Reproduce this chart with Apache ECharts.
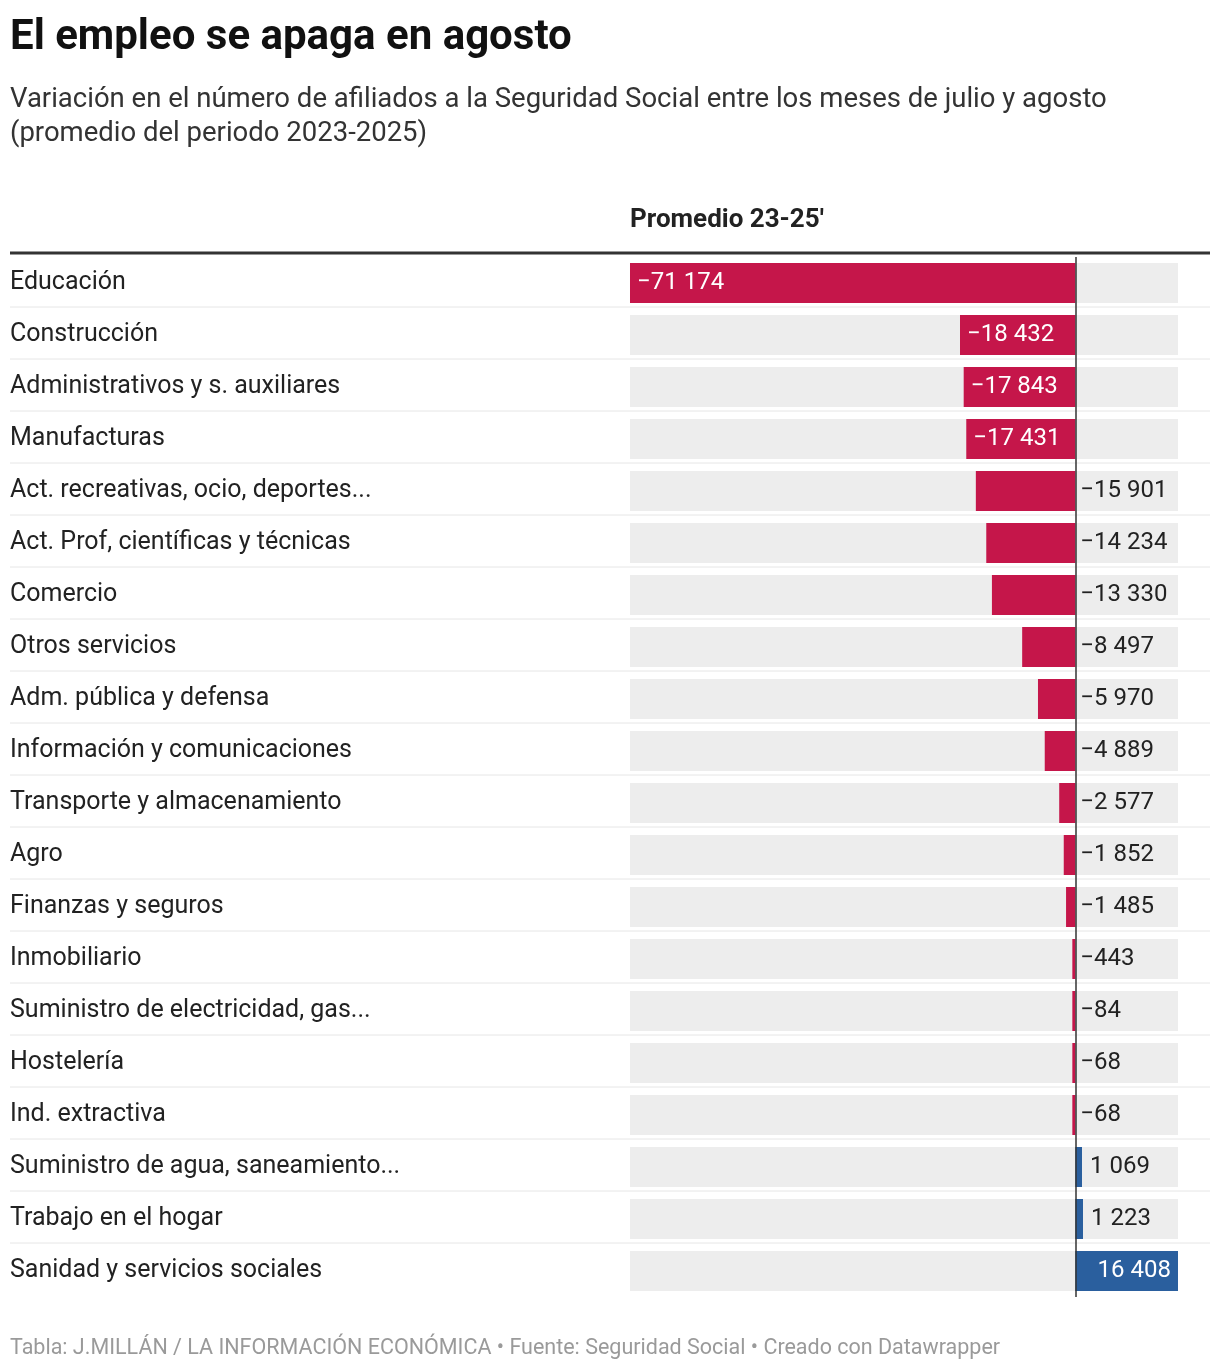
<!DOCTYPE html>
<html>
<head>
<meta charset="utf-8">
<script src="https://cdn.jsdelivr.net/npm/echarts@6/dist/echarts.min.js"></script>
<style>html,body{margin:0;padding:0;background:#fff}#chart{width:1220px;height:1370px}</style>
</head>
<body>
<div id="chart"></div>
<script>
// datos
var sectores = ['Educación','Construcción','Administrativos y s. auxiliares','Manufacturas',
  'Act. recreativas, ocio, deportes...','Act. Prof, científicas y técnicas','Comercio','Otros servicios',
  'Adm. pública y defensa','Información y comunicaciones','Transporte y almacenamiento','Agro',
  'Finanzas y seguros','Inmobiliario','Suministro de electricidad, gas...','Hostelería','Ind. extractiva',
  'Suministro de agua, saneamiento...','Trabajo en el hogar','Sanidad y servicios sociales'];
var promedio = [-71174,-18432,-17843,-17431,-15901,-14234,-13330,-8497,-5970,-4889,-2577,-1852,-1485,-443,-84,-68,-68,1069,1223,16408];
var dentro = ['Educación','Construcción','Administrativos y s. auxiliares','Manufacturas','Sanidad y servicios sociales'];

var top0 = 255, paso = 52;
var myChart = echarts.init(document.getElementById('chart'));

function fmt(v){
  var s = Math.abs(v).toString().replace(/\B(?=(\d{3})+(?!\d))/g, ' ');
  return (v < 0 ? '\u2212' : '') + s;
}

var datos = promedio.map(function(v, i){
  var d = {value: v, itemStyle: {color: v < 0 ? '#c5164a' : '#2a5f9e'}};
  if (dentro.indexOf(sectores[i]) >= 0) {
    d.label = {position: v < 0 ? 'insideLeft' : 'insideRight', color: '#fff', distance: 7};
  } else {
    d.label = {position: 'right', color: '#222', distance: v < 0 ? 5 : 8};
  }
  return d;
});

var lineas = [{type:'line', shape:{x1:10,y1:top0-2,x2:1210,y2:top0-2}, style:{stroke:'#333',lineWidth:3}}];
for (var i = 1; i < sectores.length; i++) {
  lineas.push({type:'line', shape:{x1:10,y1:top0+i*paso,x2:1210,y2:top0+i*paso}, style:{stroke:'#e6e6e6',lineWidth:1}});
}
lineas.push({type:'text', left:630, top:207, style:{text:"Promedio 23-25'", font:'bold 26px Roboto', fill:'#222'}});

var option = {
  textStyle: {fontFamily: 'Roboto'},
  title: [{
    text: 'El empleo se apaga en agosto', left: 10, top: 17, padding: 0,
    textStyle: {fontSize: 42, fontWeight: 'bold', color: '#111'}
  },{
    text: 'Variación en el número de afiliados a la Seguridad Social entre los meses de julio y agosto\n(promedio del periodo 2023-2025)',
    left: 10, top: 83, padding: 0, textStyle: {fontSize: 27.5, fontWeight: 'normal', color: '#333', lineHeight: 34}
  },{
    text: 'Tabla: J.MILLÁN / LA INFORMACIÓN ECONÓMICA • Fuente: Seguridad Social • Creado con Datawrapper',
    left: 10, top: 1338, padding: 0, textStyle: {fontSize: 21.5, fontWeight: 'normal', color: '#9a9a9a'}
  }],
  grid: {left: 630, right: 42, top: top0 + 2, height: paso * sectores.length},
  xAxis: {type: 'value', min: -71174, max: 16408, show: false},
  yAxis: {
    type: 'category', data: sectores, inverse: true,
    axisLine: {show: false}, axisTick: {show: false},
    axisLabel: {margin: 620, align: 'left', fontSize: 25, color: '#222'}
  },
  graphic: lineas,
  series: [{
    type: 'bar', data: datos, barWidth: 40, barMinHeight: 3,
    showBackground: true, backgroundStyle: {color: '#ededed'},
    label: {show: true, fontSize: 24, formatter: function(p){ return fmt(p.value); }},
    markLine: {
      silent: true, symbol: 'none', label: {show: false},
      lineStyle: {color: '#333', width: 1.5, type: 'solid'},
      data: [{xAxis: 0}]
    }
  }]
};
myChart.setOption(option);
</script>
</body>
</html>
